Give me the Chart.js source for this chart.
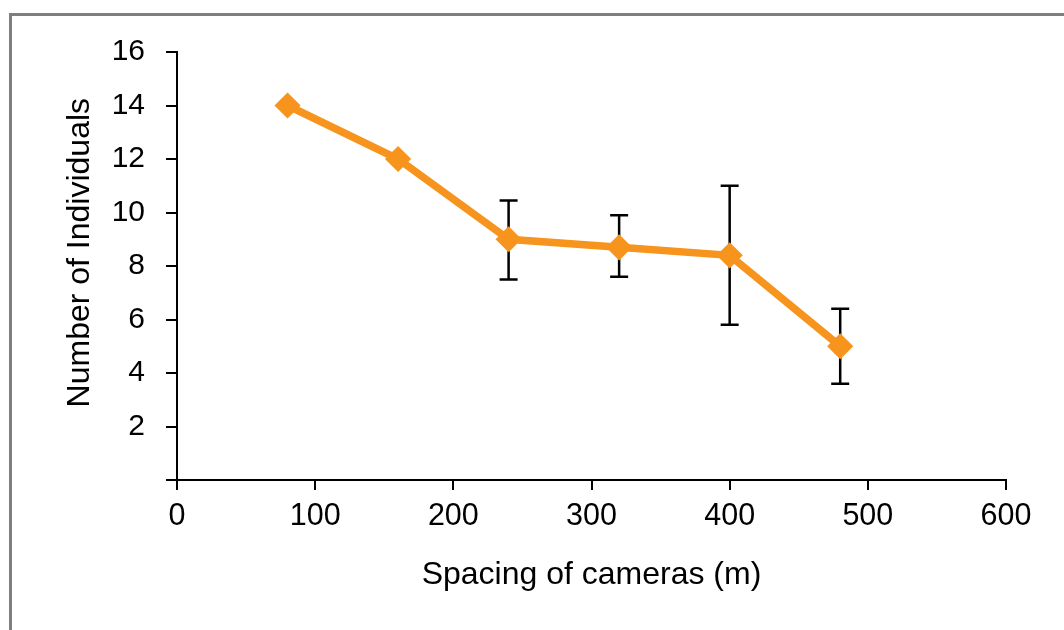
<!DOCTYPE html>
<html>
<head>
<meta charset="utf-8">
<script src="https://cdn.jsdelivr.net/npm/chart.js@4/dist/chart.umd.min.js"></script>
<style>
  html, body { margin:0; padding:0; background:#fff; overflow:hidden; }
  #frame { position:absolute; left:9px; top:13px; width:1100px; height:700px; border:3px solid #7f7f7f; box-sizing:border-box; }
  #wrap { position:absolute; left:0; top:0; width:1064px; height:630px; }
</style>
</head>
<body>
<div id="frame"></div>
<div id="wrap"><canvas id="chart" width="1064" height="630"></canvas></div>
<script>
const spacing = [80, 160, 240, 320, 400, 480];
const individuals = [14, 12, 9, 8.7, 8.4, 5];
const errLow  = [null, null, 7.5, 7.6, 5.8, 3.6];
const errHigh = [null, null, 10.45, 9.9, 11, 6.4];
const yTicks = [0, 2, 4, 6, 8, 10, 12, 14, 16];

const orange = '#F7941E';
const font = 'Liberation Sans, Arial, sans-serif';

// error bars drawn under the markers
const errorBars = {
  id: 'errorBars',
  beforeDatasetsDraw(chart){
    const {ctx, scales:{x, y}} = chart;
    ctx.save();
    ctx.strokeStyle = '#000';
    ctx.lineWidth = 2.5;
    spacing.forEach((v, i) => {
      if(errLow[i] == null) return;
      const px = x.getPixelForValue(v);
      const lo = y.getPixelForValue(errLow[i]);
      const hi = y.getPixelForValue(errHigh[i]);
      ctx.beginPath();
      ctx.moveTo(px, lo); ctx.lineTo(px, hi);
      ctx.moveTo(px-9, lo); ctx.lineTo(px+9, lo);
      ctx.moveTo(px-9, hi); ctx.lineTo(px+9, hi);
      ctx.stroke();
    });
    ctx.restore();
  }
};

new Chart(document.getElementById('chart'), {
  type: 'line',
  data: {
    datasets: [{
      data: spacing.map((v, i) => ({x: v, y: individuals[i]})),
      borderColor: orange,
      backgroundColor: orange,
      borderWidth: 7.5,
      pointStyle: 'rectRot',
      pointRadius: 11,
      pointBorderWidth: 3,
      pointBackgroundColor: orange,
      pointBorderColor: orange,
      tension: 0
    }]
  },
  options: {
    responsive: false,
    animation: false,
    layout: { padding: { left: 0, top: 52, right: 58, bottom: 0 } },
    plugins: { legend: { display: false }, tooltip: { enabled: false } },
    scales: {
      x: {
        type: 'linear',
        min: 0, max: 600,
        ticks: { stepSize: 100, color: '#000', font: { family: font, size: 30.5 }, padding: 8, maxRotation: 0 },
        grid: { drawOnChartArea: false, drawTicks: true, tickLength: 10, color: '#000', lineWidth: 2 },
        border: { display: true, color: '#000', width: 2 },
        title: { display: true, text: 'Spacing of cameras (m)', color: '#000', font: { family: font, size: 32 }, padding: { top: 0, bottom: 36 } },
        afterFit(s){ s.height = 150; }
      },
      y: {
        min: 0, max: 16,
        afterBuildTicks(s){ s.ticks = yTicks.map(v => ({value: v})); },
        ticks: { color: '#000', font: { family: font, size: 30 }, padding: 21,
                 callback: v => v === 0 ? '' : v },
        grid: { drawOnChartArea: false, drawTicks: true, tickLength: 11, color: '#000', lineWidth: 2 },
        border: { display: true, color: '#000', width: 2 },
        title: { display: true, text: '   Number of Individuals', color: '#000', font: { family: font, size: 32 }, padding: { top: 61, bottom: 0 } },
        afterFit(s){ s.width = 177; }
      }
    }
  },
  plugins: [errorBars]
});
</script>
</body>
</html>
